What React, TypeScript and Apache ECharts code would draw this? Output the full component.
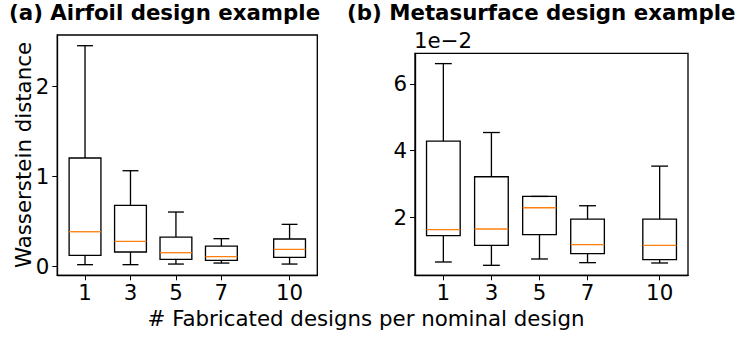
import React, { useEffect, useRef } from "react";
import * as echarts from "echarts";

const positions = [1, 3, 5, 7, 10];
const tickLabels = ["1", "3", "5", "7", "10"];

// (a) Airfoil design example
const airfoilMin = [0.015, 0.015, 0.022, 0.033, 0.022];
const airfoilQ1 = [0.118, 0.156, 0.074, 0.063, 0.096];
const airfoilMedian = [0.381, 0.274, 0.148, 0.104, 0.185];
const airfoilQ3 = [1.2, 0.674, 0.322, 0.222, 0.3];
const airfoilMax = [2.448, 1.059, 0.6, 0.304, 0.463];

// (b) Metasurface design example
const metaMin = [0.0065, 0.0055, 0.0074, 0.0063, 0.0062];
const metaQ1 = [0.0144, 0.0115, 0.0147, 0.009, 0.0072];
const metaMedian = [0.0162, 0.0164, 0.0228, 0.0117, 0.0115];
const metaQ3 = [0.0428, 0.0321, 0.0262, 0.0194, 0.0194];
const metaMax = [0.0661, 0.0454, 0.0262, 0.0234, 0.0353];

const airfoilTicks = [0, 1, 2];
const metaTicks = [0.02, 0.04, 0.06];

const FONT = "DejaVu Sans";
const BIG = 21.33;
const TICK = 21.33;
const BOX_HALF = 0.7;
const CAP_HALF = 0.35;
const LW = 1.33;

function rows(mn: number[], q1: number[], med: number[], q3: number[], mx: number[]) {
  return positions.map((p, i) => [p, mn[i], q1[i], med[i], q3[i], mx[i]]);
}

const renderBox = (params: any, api: any) => {
  const x = api.value(0);
  const mn = api.value(1);
  const q1 = api.value(2);
  const med = api.value(3);
  const q3 = api.value(4);
  const mx = api.value(5);
  const pL = api.coord([x - BOX_HALF, q1]);
  const pR = api.coord([x + BOX_HALF, q3]);
  const c = api.coord([x, mn]);
  const cL = api.coord([x - CAP_HALF, mn]);
  const cR = api.coord([x + CAP_HALF, mx]);
  const yMin = api.coord([x, mn])[1];
  const yMax = api.coord([x, mx])[1];
  const yQ1 = pL[1];
  const yQ3 = pR[1];
  const yMed = api.coord([x, med])[1];
  const stroke = { stroke: "#000", lineWidth: LW, fill: null };
  return {
    type: "group",
    children: [
      { type: "line", shape: { x1: c[0], y1: yQ1, x2: c[0], y2: yMin }, style: stroke },
      { type: "line", shape: { x1: c[0], y1: yQ3, x2: c[0], y2: yMax }, style: stroke },
      { type: "line", shape: { x1: cL[0], y1: yMin, x2: cR[0], y2: yMin }, style: stroke },
      { type: "line", shape: { x1: cL[0], y1: yMax, x2: cR[0], y2: yMax }, style: stroke },
      {
        type: "rect",
        shape: { x: pL[0], y: yQ3, width: pR[0] - pL[0], height: yQ1 - yQ3 },
        style: { stroke: "#000", lineWidth: LW, fill: "none" },
      },
      { type: "line", shape: { x1: pL[0], y1: yMed, x2: pR[0], y2: yMed }, style: { stroke: "#ff7f0e", lineWidth: LW } },
    ],
  };
};

export default function App() {
  const ref = useRef<HTMLDivElement>(null);
  useEffect(() => {
    if (!ref.current) return;
    const chart = echarts.init(ref.current, undefined, { renderer: "svg" });
    const axisLabelStyle = { color: "#000", fontSize: TICK, fontFamily: FONT };
    const xAxisBase = (idx: number, min: number, max: number) => ({
      type: "value",
      gridIndex: idx,
      min,
      max,
      splitLine: { show: false },
      axisLine: { show: true, onZero: false, lineStyle: { color: "#000", width: LW } },
      axisTick: { show: true, length: 5, customValues: positions, lineStyle: { color: "#000", width: 1 } },
      axisLabel: {
        ...axisLabelStyle,
        margin: 7,
        customValues: positions,
        formatter: (v: number) => tickLabels[positions.indexOf(v)] ?? String(v),
      },
    });
    chart.setOption({
      animation: false,
      grid: [
        { left: 57.3, top: 35, width: 260, height: 240.3, show: true, borderColor: "#000", borderWidth: LW },
        { left: 415, top: 53.3, width: 273, height: 222, show: true, borderColor: "#000", borderWidth: LW },
      ],
      xAxis: [xAxisBase(0, -0.22, 11.22), xAxisBase(1, -0.18, 11.18)],
      yAxis: [
        {
          type: "value",
          gridIndex: 0,
          min: -0.103,
          max: 2.567,
          splitLine: { show: false },
          axisLine: { show: true, onZero: false, lineStyle: { color: "#000", width: LW } },
          axisTick: { show: true, length: 5, customValues: airfoilTicks, lineStyle: { color: "#000", width: 1 } },
          axisLabel: { ...axisLabelStyle, margin: 8, customValues: airfoilTicks, formatter: (v: number) => String(Math.round(v)) },
        },
        {
          type: "value",
          gridIndex: 1,
          min: 0.0025,
          max: 0.0692,
          splitLine: { show: false },
          axisLine: { show: true, onZero: false, lineStyle: { color: "#000", width: LW } },
          axisTick: { show: true, length: 5, customValues: metaTicks, lineStyle: { color: "#000", width: 1 } },
          axisLabel: { ...axisLabelStyle, margin: 8, customValues: metaTicks, formatter: (v: number) => String(Math.round(v * 100)) },
        },
      ],
      series: [
        {
          type: "custom",
          xAxisIndex: 0,
          yAxisIndex: 0,
          renderItem: renderBox,
          encode: { x: 0, y: [1, 2, 3, 4, 5] },
          data: rows(airfoilMin, airfoilQ1, airfoilMedian, airfoilQ3, airfoilMax),
          clip: false,
        },
        {
          type: "custom",
          xAxisIndex: 1,
          yAxisIndex: 1,
          renderItem: renderBox,
          encode: { x: 0, y: [1, 2, 3, 4, 5] },
          data: rows(metaMin, metaQ1, metaMedian, metaQ3, metaMax),
          clip: false,
        },
      ],
      graphic: [
        {
          type: "text",
          left: 9,
          top: 2,
          style: { text: "(a) Airfoil design example", fontSize: BIG, fontWeight: "bold", fontFamily: FONT, fill: "#000" },
        },
        {
          type: "text",
          left: 347,
          top: 2,
          style: { text: "(b) Metasurface design example", fontSize: BIG, fontWeight: "bold", fontFamily: FONT, fill: "#000" },
        },
        {
          type: "text",
          left: 414,
          top: 30,
          style: { text: "1e\u22122", fontSize: TICK, fontFamily: FONT, fill: "#000" },
        },
        {
          type: "text",
          x: 23,
          y: 155,
          rotation: Math.PI / 2,
          style: { text: "Wasserstein distance", fontSize: BIG, fontFamily: FONT, fill: "#000", align: "center", verticalAlign: "middle" },
        },
        {
          type: "text",
          x: 366,
          y: 318,
          style: { text: "# Fabricated designs per nominal design", fontSize: BIG, fontFamily: FONT, fill: "#000", align: "center", verticalAlign: "middle" },
        },
      ],
    });
    return () => chart.dispose();
  }, []);
  return <div ref={ref} style={{ width: 735, height: 337, position: "absolute", left: 0, top: 0, background: "#fff" }} />;
}
